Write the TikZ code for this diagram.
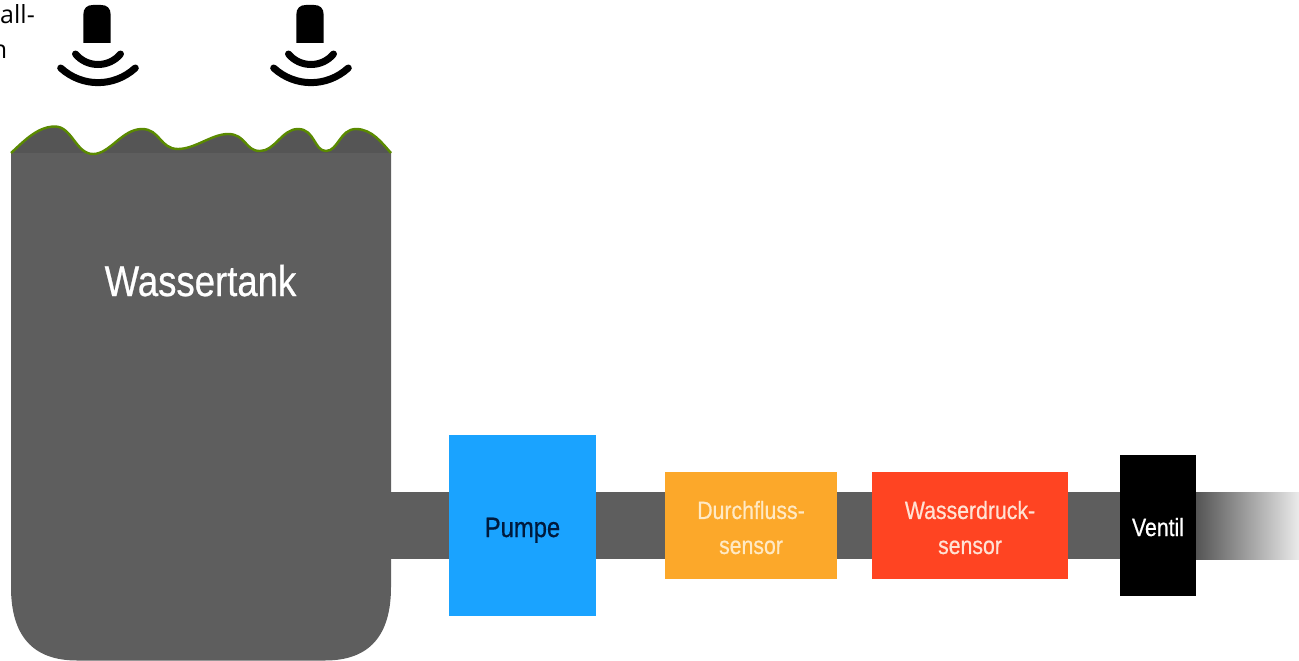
\documentclass[tikz,border=0pt]{standalone}
\usepackage{fontspec}
\usetikzlibrary{backgrounds}
\setmainfont{Liberation Sans}
\newfontfamily\notefont{Open Sans}
\newfontfamily\labelfont[FakeStretch=0.85,FakeBold=0.6]{Liberation Sans}
\definecolor{tankgray}{HTML}{5E5E5E}
\definecolor{wavegray}{HTML}{555555}
\definecolor{wavegreen}{HTML}{5A8A00}
\definecolor{pumpblue}{HTML}{1AA3FF}
\definecolor{floworange}{HTML}{FCA82A}
\definecolor{pressred}{HTML}{FF4422}
\definecolor{pumptext}{HTML}{001A3C}
\definecolor{flowtext}{HTML}{FFE9C4}
\definecolor{presstext}{HTML}{FFE2D4}
\tikzset{
  unit/.style={draw=none,inner sep=0pt,align=center,text=white},
  twoline/.style={font=\labelfont\fontsize{25}{35}\selectfont},
  pipe/.style={draw=tankgray,line width=67pt},
  wavearc/.style={draw=black,line width=7pt,line cap=round},
  notetext/.style={anchor=base east,inner sep=0pt,font=\notefont\fontsize{25}{25}\selectfont}
}
\def\wavepath{(11,153) .. controls (25,140) and (38,126.5) .. (55,126.5) .. controls (72,126.5) and (76,154) .. (93,154) .. controls (110,154) and (122,129) .. (142,129) .. controls (160,129) and (160,149) .. (178,149) .. controls (195,149) and (212,134) .. (228,134) .. controls (246,134) and (245,151) .. (260,151) .. controls (275,151) and (282,129) .. (298,129) .. controls (315,129) and (314,151) .. (326,151) .. controls (338,151) and (340,129) .. (356,129) .. controls (372,129) and (382,143) .. (391,153)}
\begin{document}
\begin{tikzpicture}[x=1pt,y=-1pt]
\useasboundingbox (0,0) rectangle (1299,661);
\begin{scope}
\clip (0,0) rectangle (1299,661);
\node[notetext] (noteA) at (35,24) {all-};
\node[notetext] (noteB) at (7.5,59) {n};
\end{scope}
\foreach \dx in {0,213}{
 \begin{scope}[xshift=\dx pt]
  \fill[black] (83.3,43) -- (83.3,15) .. controls (83.3,8) and (87,5) .. (93,5) -- (101,5) .. controls (107,5) and (110.7,8) .. (110.7,15) -- (110.7,43) -- cycle;
  \begin{scope}
   \clip (40,45) rectangle (160,87);
   \draw[wavearc] (75.5,54) .. controls (87,68) and (109,68) .. (120.5,54);
   \draw[wavearc] (60.7,68) .. controls (82,87.5) and (114,87.5) .. (135.3,68);
  \end{scope}
 \end{scope}
}
\coordinate (tankexit) at (380,525.5);
\node[unit,fill=pumpblue,minimum width=147pt,minimum height=181pt,text=pumptext,font=\labelfont\fontsize{28}{28}\selectfont,text height=23pt,text depth=0pt] (pumpe) at (522.5,525.5) {Pumpe};
\node[unit,twoline,fill=floworange,minimum width=172pt,minimum height=107pt,text=flowtext] (durch) at (751,525.5) {Durchfluss-\rule{0pt}{22.2pt}\\sensor};
\node[unit,twoline,fill=pressred,minimum width=196pt,minimum height=107pt,text=presstext] (druck) at (970,525.5) {Wasserdruck-\rule{0pt}{22.2pt}\\sensor};
\node[unit,fill=black,minimum width=76pt,minimum height=141pt,font=\labelfont\fontsize{25}{25}\selectfont,text height=21pt,text depth=0pt] (ventil) at (1158,525.5) {Ventil};
\begin{scope}[on background layer]
\draw[pipe] (tankexit) -- (pumpe.west);
\draw[pipe] (pumpe.east) -- (durch.west);
\draw[pipe] (durch.east) -- (druck.west);
\draw[pipe] (druck.east) -- (ventil.west);
\shade[left color=tankgray!90!black,right color=black!8] (ventil.east |- tankexit) ++(0,-33.5) rectangle (1299,559);
\end{scope}
\fill[wavegray] \wavepath -- cycle;
\fill[tankgray] (11,153) -- (391,153) -- (391,587) .. controls (391,635) and (370,660.5) .. (325,660.5) -- (77,660.5) .. controls (32,660.5) and (11,635) .. (11,587) -- cycle;
\draw[wavegreen,line width=2.4pt] \wavepath;
\node[unit,anchor=base,font=\labelfont\fontsize{43}{43}\selectfont] (tank) at (200.5,296) {Wassertank};
\end{tikzpicture}
\end{document}
